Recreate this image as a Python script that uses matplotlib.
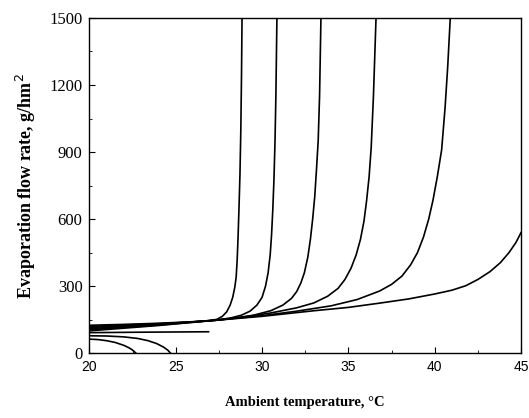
import numpy as np
import matplotlib.pyplot as plt
from matplotlib.ticker import MultipleLocator

# Values (temperature in degC, rate in g/hm2)
t1 = [20, 22, 24, 26, 27, 27.4, 27.7, 27.95, 28.15, 28.3, 28.42, 28.5, 28.56,
      28.61, 28.66, 28.72, 28.77, 28.81, 28.84]
v1 = [125, 129, 134, 141, 146, 152, 165, 185, 215, 250, 295, 340, 420,
      520, 640, 800, 1000, 1250, 1500]

t2 = [20, 22, 24, 26, 27.4, 28.2, 28.8, 29.3, 29.7, 30.0, 30.2, 30.35, 30.47,
      30.55, 30.62, 30.69, 30.75, 30.8, 30.86]
v2 = [120, 126, 132, 140, 149, 158, 170, 188, 215, 250, 300, 360, 440,
      530, 640, 780, 950, 1150, 1500]

t3 = [20, 24, 27.4, 28.5, 29.5, 30.5, 31.2, 31.7, 32.0, 32.25, 32.45, 32.65,
      32.8, 32.93, 33.05, 33.15, 33.25, 33.33, 33.41]
v3 = [115, 130, 148, 158, 170, 190, 215, 245, 275, 315, 360, 430,
      510, 600, 700, 820, 950, 1150, 1500]

t4 = [20, 24, 27.4, 29, 30.5, 32, 33, 33.8, 34.4, 34.8, 35.15, 35.45, 35.7,
      35.9, 36.05, 36.2, 36.32, 36.45, 36.6]
v4 = [110, 128, 148, 163, 180, 203, 225, 255, 290, 330, 380, 440, 510,
      590, 680, 790, 920, 1150, 1500]

t5 = [20, 24, 27.4, 30, 32, 34, 35.5, 36.8, 37.5, 38.1, 38.6, 39.0, 39.35,
      39.65, 39.9, 40.15, 40.4, 40.6, 40.75, 40.9]
v5 = [105, 126, 148, 168, 188, 212, 240, 278, 308, 345, 395, 450, 520,
      600, 685, 790, 910, 1100, 1280, 1500]

t6 = [20, 24, 27.4, 30, 33, 35, 36.8, 38.5, 40, 41, 41.8, 42.5, 43.2, 43.8,
      44.3, 44.7, 45]
v6 = [100, 124, 148, 165, 190, 205, 224, 243, 265, 282, 302, 330, 365, 405,
      450, 495, 540]

# short branch ending near 27 degC
ts = [20, 23, 25, 26.9]
vs = [92, 94, 95, 96]

# two falling branches
tl1 = [20, 20.5, 21, 21.5, 22, 22.3, 22.5, 22.7]
vl1 = [63, 61, 56, 48, 35, 24, 14, 0]

tl2 = [20, 21, 22, 22.8, 23.4, 23.9, 24.3, 24.55, 24.7]
vl2 = [78, 77, 73, 66, 56, 43, 27, 13, 0]

fig = plt.figure(figsize=(5.29, 4.18), dpi=100)
ax = fig.add_axes([0.169, 0.155, 0.816, 0.802])

for t, v in [(t1, v1), (t2, v2), (t3, v3), (t4, v4), (t5, v5), (t6, v6),
             (ts, vs), (tl1, vl1), (tl2, vl2)]:
    ax.plot(t, v, color='black', lw=1.2)

ax.set_xlim(20, 45)
ax.set_ylim(0, 1500)
ax.xaxis.set_major_locator(MultipleLocator(5))
ax.xaxis.set_minor_locator(MultipleLocator(2.5))
ax.yaxis.set_major_locator(MultipleLocator(300))
ax.yaxis.set_minor_locator(MultipleLocator(150))
ax.tick_params(which='both', direction='in', top=False, right=False)
ax.tick_params(which='major', length=4)
ax.tick_params(which='minor', length=2.5)
ax.tick_params(axis='y', labelsize=12, pad=5)
ax.tick_params(axis='x', labelsize=10, pad=5)
for lab in ax.get_yticklabels():
    lab.set_family('Liberation Serif')
for lab in ax.get_xticklabels():
    lab.set_family('Liberation Sans')
for s in ax.spines.values():
    s.set_linewidth(1.0)

ax.set_xlabel('Ambient temperature, \u00b0C', family='Liberation Serif',
              fontweight='bold', fontsize=10.5, labelpad=16)
ax.set_ylabel('Evaporation flow rate, g/hm$^2$', family='Liberation Serif',
              fontweight='bold', fontsize=13, labelpad=8)

fig.savefig('out.png', dpi=100)
